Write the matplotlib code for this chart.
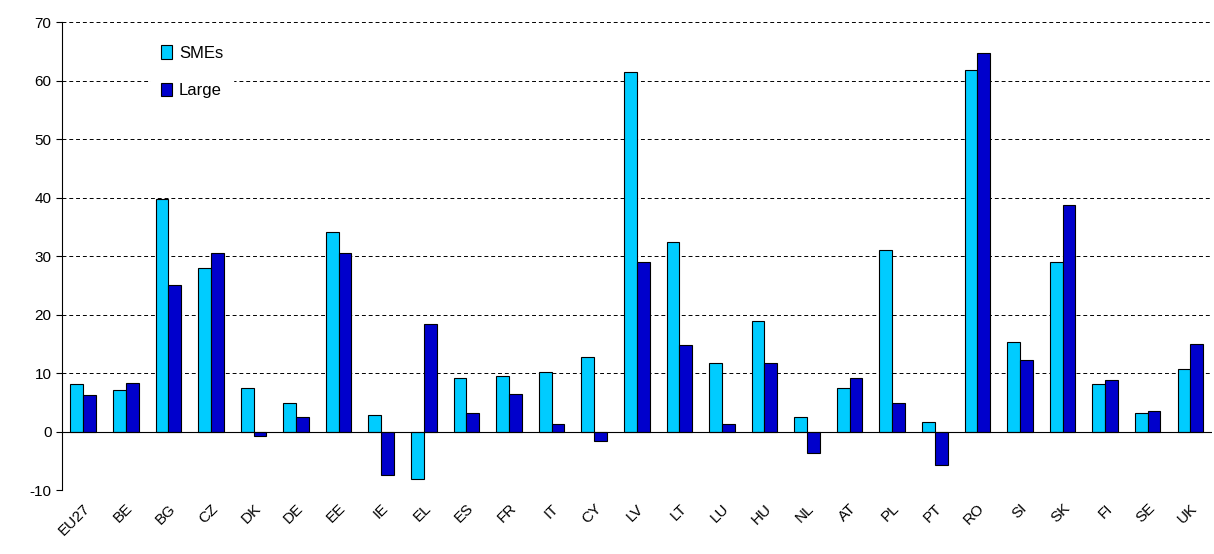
import numpy as np
import matplotlib.pyplot as plt

countries = ["EU27", "BE", "BG", "CZ", "DK", "DE", "EE", "IE", "EL", "ES", "FR", "IT", "CY", "LV",
             "LT", "LU", "HU", "NL", "AT", "PL", "PT", "RO", "SI", "SK", "FI", "SE", "UK"]
smes = [8.1, 7.2, 39.8, 28.0, 7.5, 4.9, 34.2, 2.9, -8.0, 9.2, 9.5, 10.2, 12.8, 61.4,
        32.5, 11.8, 19.0, 2.6, 7.5, 31.0, 1.6, 61.8, 15.4, 29.0, 8.1, 3.2, 10.8]
large = [6.2, 8.4, 25.0, 30.6, -0.8, 2.6, 30.6, -7.4, 18.4, 3.2, 6.5, 1.3, -1.5, 29.0,
         14.8, 1.3, 11.8, -3.7, 9.2, 4.9, -5.7, 64.7, 12.2, 38.8, 8.9, 3.5, 15.0]

plt.rcParams['font.family'] = ['Liberation Sans', 'DejaVu Sans']
plt.rcParams['axes.unicode_minus'] = False
fig = plt.figure(figsize=(12.14, 5.54), dpi=100)
ax = fig.add_axes([0.051, 0.115, 0.947, 0.845])

x = np.arange(len(countries))
w = 0.3
ax.bar(x - w / 2, smes, w, color="#00CCFF", edgecolor="black", linewidth=0.8, label="SMEs", zorder=3)
ax.bar(x + w / 2, large, w, color="#0000CC", edgecolor="black", linewidth=0.8, label="Large", zorder=3)

ax.set_ylim(-10, 70)
ax.set_yticks(range(-10, 71, 10))
ax.set_xlim(-0.5, len(countries) - 0.5)
ax.yaxis.grid(True, linestyle=(0, (4, 3)), color="black", linewidth=0.7, zorder=0)
ax.axhline(0, color="black", linewidth=0.8, zorder=4)
ax.set_xticks(x)
ax.set_xticklabels(countries, rotation=45, ha="right", rotation_mode="anchor", fontsize=11)
ax.tick_params(axis="x", length=0, pad=8)
ax.tick_params(axis="y", labelsize=11, length=4)
for s in ["top", "right", "bottom"]:
    ax.spines[s].set_visible(False)

leg = ax.legend(loc="upper left", bbox_to_anchor=(0.07, 0.99), frameon=True, fontsize=12,
                handlelength=0.7, handleheight=0.9, labelspacing=1.3, borderpad=0.6, fancybox=False,
                handletextpad=0.4)
leg.get_frame().set_edgecolor("white")
leg.get_frame().set_alpha(1)

fig.savefig("out.png")
